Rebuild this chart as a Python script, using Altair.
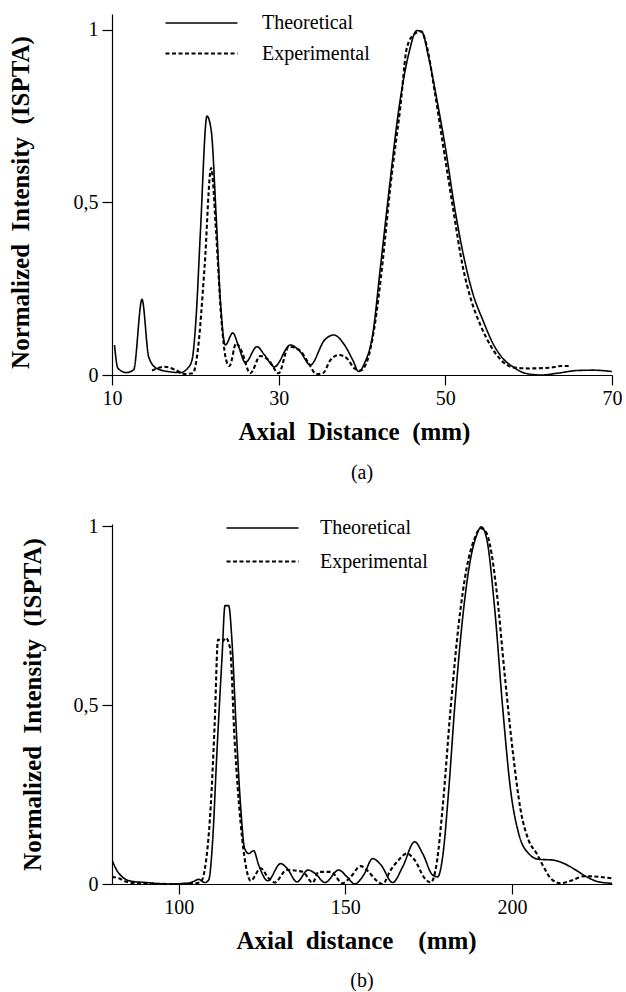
import altair as alt
import pandas as pd

FONT = "Liberation Serif"

# ---------- panel (a) ----------
ta_x = [10.3, 10.7, 11.7, 12.6, 13.6, 14.4, 15.3, 16.7, 18.2, 19.1, 19.6, 20.1, 20.6, 21.4, 21.9,
        22.5, 23.0, 23.6, 24.5, 25.2, 26.0, 27.4, 28.3, 29.5, 31.4, 32.6, 33.8, 35.5, 36.6, 37.9,
        38.9, 39.6, 40.3, 41.3, 42.2, 43.2, 44.4, 45.6, 46.6, 47.2, 48.0, 49.0, 50.0, 51.1, 52.3,
        53.3, 54.5, 55.7, 56.9, 58.1, 59.6, 61.5, 63.4, 65.8, 67.7, 70.0]
ta_y = [0.087, 0.02, 0.007, 0.015, 0.219, 0.053, 0.02, 0.01, 0.007, 0.02, 0.043, 0.17, 0.41, 0.75, 0.71,
        0.46, 0.217, 0.087, 0.122, 0.082, 0.036, 0.082, 0.058, 0.024, 0.087, 0.067, 0.029, 0.101, 0.116, 0.087,
        0.043, 0.01, 0.034, 0.12, 0.31, 0.525, 0.767, 0.93, 0.998, 0.993, 0.92, 0.796, 0.66, 0.487, 0.333,
        0.236, 0.159, 0.092, 0.048, 0.024, 0.005, 0.0, 0.005, 0.013, 0.014, 0.01]

ea_x = [14.8, 16.3, 17.5, 18.7, 19.7, 20.3, 21.1, 21.9, 22.5, 23.1, 23.7, 24.1, 24.9, 25.5, 26.6,
        27.8, 28.8, 30.0, 31.2, 32.5, 33.6, 34.5, 35.3, 36.2, 37.2, 38.2, 39.1, 39.8, 40.6, 41.5,
        42.5, 43.4, 44.6, 45.4, 46.3, 47.1, 47.8, 48.7, 49.7, 50.9, 52.1, 53.1, 54.3, 55.5, 56.7,
        58.1, 60.0, 62.5, 63.9, 65.1]
ea_y = [0.013, 0.024, 0.016, 0.003, 0.005, 0.072, 0.31, 0.60, 0.41, 0.17, 0.043, 0.026, 0.092, 0.072, 0.005,
        0.055, 0.043, 0.005, 0.082, 0.072, 0.034, 0.003, 0.005, 0.043, 0.058, 0.048, 0.019, 0.013, 0.039, 0.14,
        0.333, 0.545, 0.776, 0.95, 0.988, 0.996, 0.95, 0.825, 0.67, 0.487, 0.313, 0.217, 0.14, 0.082, 0.043,
        0.022, 0.019, 0.021, 0.026, 0.026]

# ---------- panel (b) ----------
tb_x = [80.0, 81.4, 83.2, 85.6, 90.4, 96.4, 102.4, 104.2, 106.0, 107.8, 109.0, 110.2, 111.4, 113.0, 113.9,
        115.0, 116.0, 117.2, 118.6, 119.8, 121.0, 122.5, 124.0, 126.7, 130.6, 132.5, 135.5, 138.8, 140.9, 143.9,
        148.0, 150.5, 152.8, 155.5, 158.2, 160.7, 164.2, 167.2, 170.8, 173.2, 176.2, 177.7, 179.2, 181.0, 182.8,
        185.2, 187.6, 189.4, 190.8, 192.4, 194.8, 197.2, 199.6, 202.0, 205.0, 208.0, 212.2, 215.2, 218.8, 222.4,
        226.0, 230.0]
tb_y = [0.067, 0.039, 0.019, 0.008, 0.004, 0.0, 0.002, 0.006, 0.013, 0.004, 0.011, 0.122, 0.354, 0.632, 0.778,
        0.778, 0.678, 0.447, 0.215, 0.099, 0.085, 0.093, 0.053, 0.009, 0.057, 0.044, 0.006, 0.039, 0.03, 0.004,
        0.039, 0.02, 0.0, 0.025, 0.071, 0.053, 0.004, 0.048, 0.118, 0.085, 0.025, 0.02, 0.076, 0.261, 0.493,
        0.744, 0.91, 0.975, 0.998, 0.965, 0.77, 0.493, 0.261, 0.141, 0.085, 0.069, 0.067, 0.059, 0.041, 0.02,
        0.006, 0.002]

eb_x = [80.0, 82.0, 84.4, 88.0, 98.8, 104.8, 106.6, 107.8, 109.6, 110.8, 111.8, 113.2, 114.1, 115.4, 116.8,
        118.6, 120.2, 121.6, 124.6, 127.0, 128.8, 132.4, 137.2, 140.2, 142.0, 145.6, 149.2, 151.6, 154.6, 157.0,
        159.4, 161.2, 163.6, 166.0, 168.4, 170.8, 173.8, 175.6, 177.4, 179.2, 181.6, 184.0, 186.4, 188.8, 190.6,
        192.4, 193.4, 195.4, 197.8, 200.2, 202.6, 205.0, 207.4, 209.2, 211.6, 214.6, 217.6, 221.8, 226.0, 230.0]
eb_y = [0.02, 0.016, 0.006, 0.002, 0.0, 0.002, 0.006, 0.039, 0.215, 0.447, 0.683, 0.678, 0.688, 0.66, 0.40,
        0.169, 0.048, 0.009, 0.044, 0.016, 0.004, 0.039, 0.034, 0.004, 0.034, 0.034, 0.002, 0.02, 0.05, 0.034,
        0.009, 0.0, 0.039, 0.067, 0.085, 0.067, 0.016, 0.004, 0.057, 0.215, 0.493, 0.725, 0.883, 0.966, 0.994,
        0.98, 0.947, 0.817, 0.586, 0.373, 0.206, 0.122, 0.085, 0.053, 0.016, 0.002, 0.009, 0.022, 0.02, 0.016]

SERIES = ["Theoretical", "Experimental"]
y_ticks = [0, 0.5, 1]


def panel(tx, ty, ex, ey, xdom, xticks, ymax, height, xtitle, caption,
          legx, legy, rowpad, label_off, ytitle_pad, ytitle_y, xtitle_x, cap_off):
    df = pd.DataFrame({
        "x": tx + ex,
        "y": ty + ey,
        "series": [SERIES[0]] * len(tx) + [SERIES[1]] * len(ex),
    })
    leg = alt.Legend(
        title=None, orient="none", legendX=legx, legendY=legy,
        symbolType="M-4,0H4", symbolSize=324,
        symbolStrokeColor="black", labelOffset=label_off,
        labelFont=FONT, labelFontSize=20, labelColor="black",
        rowPadding=rowpad, padding=0,
    )
    dash = alt.StrokeDash(
        "series:N",
        scale=alt.Scale(domain=SERIES, range=[[1, 0], [4, 2.5]]),
        legend=leg,
    )
    width_enc = alt.StrokeWidth(
        "series:N",
        scale=alt.Scale(domain=SERIES, range=[1.6, 2.1]),
        legend=leg,
    )
    return alt.Chart(df).mark_line(
        color="black", interpolate="monotone", clip=True
    ).encode(
        x=alt.X("x:Q",
                scale=alt.Scale(domain=xdom, nice=False, zero=False),
                axis=alt.Axis(values=xticks, title=xtitle, format="d",
                              labelFlush=False,
                              titleX=xtitle_x, titleAlign="center")),
        y=alt.Y("y:Q",
                scale=alt.Scale(domain=[0, ymax], nice=False),
                axis=alt.Axis(values=y_ticks,
                              title="Normalized\u00a0 Intensity\u00a0 (ISPTA)",
                              format="~g",
                              labelExpr="replace(datum.label, '.', ',')",
                              titlePadding=ytitle_pad, titleY=ytitle_y)),
        strokeDash=dash,
        strokeWidth=width_enc,
    ).properties(
        width=500, height=height,
        title=alt.TitleParams(caption, orient="bottom", font=FONT, fontSize=20,
                              fontWeight="normal", color="black", offset=cap_off),
    )


top = panel(ta_x, ta_y, ea_x, ea_y, [10, 70], [10, 30, 50, 70], 1.046, 361,
            "Axial\u00a0 Distance\u00a0 (mm)", "(a)",
            79, -1, 10, 50, 40, 188, 242, 19)
bottom = panel(tb_x, tb_y, eb_x, eb_y, [80, 230], [100, 150, 200], 1.006, 360,
               "Axial\u00a0 distance\u00a0\u00a0\u00a0 (mm)", "(b)",
               140, -6, 13, 47, 28, 180, 244, 18)

chart = alt.vconcat(top, bottom, spacing=149, bounds="flush").resolve_scale(
    strokeDash="independent", strokeWidth="independent"
).properties(
    padding={"left": 8, "top": 13, "right": 0, "bottom": 0}
).configure_view(stroke=None).configure_axis(
    grid=False,
    domainColor="black", domainWidth=1.2,
    tickColor="black", tickSize=10, tickWidth=1.2,
    labelColor="black", labelFont=FONT, labelFontSize=20, labelPadding=4,
    titleColor="black", titleFont=FONT, titleFontSize=25, titleFontWeight="bold",
).configure_axisX(titlePadding=11, labelPadding=3).configure_legend(
    labelFont=FONT
)

chart.save("out.html", embed_options={"renderer": "svg", "actions": False})
